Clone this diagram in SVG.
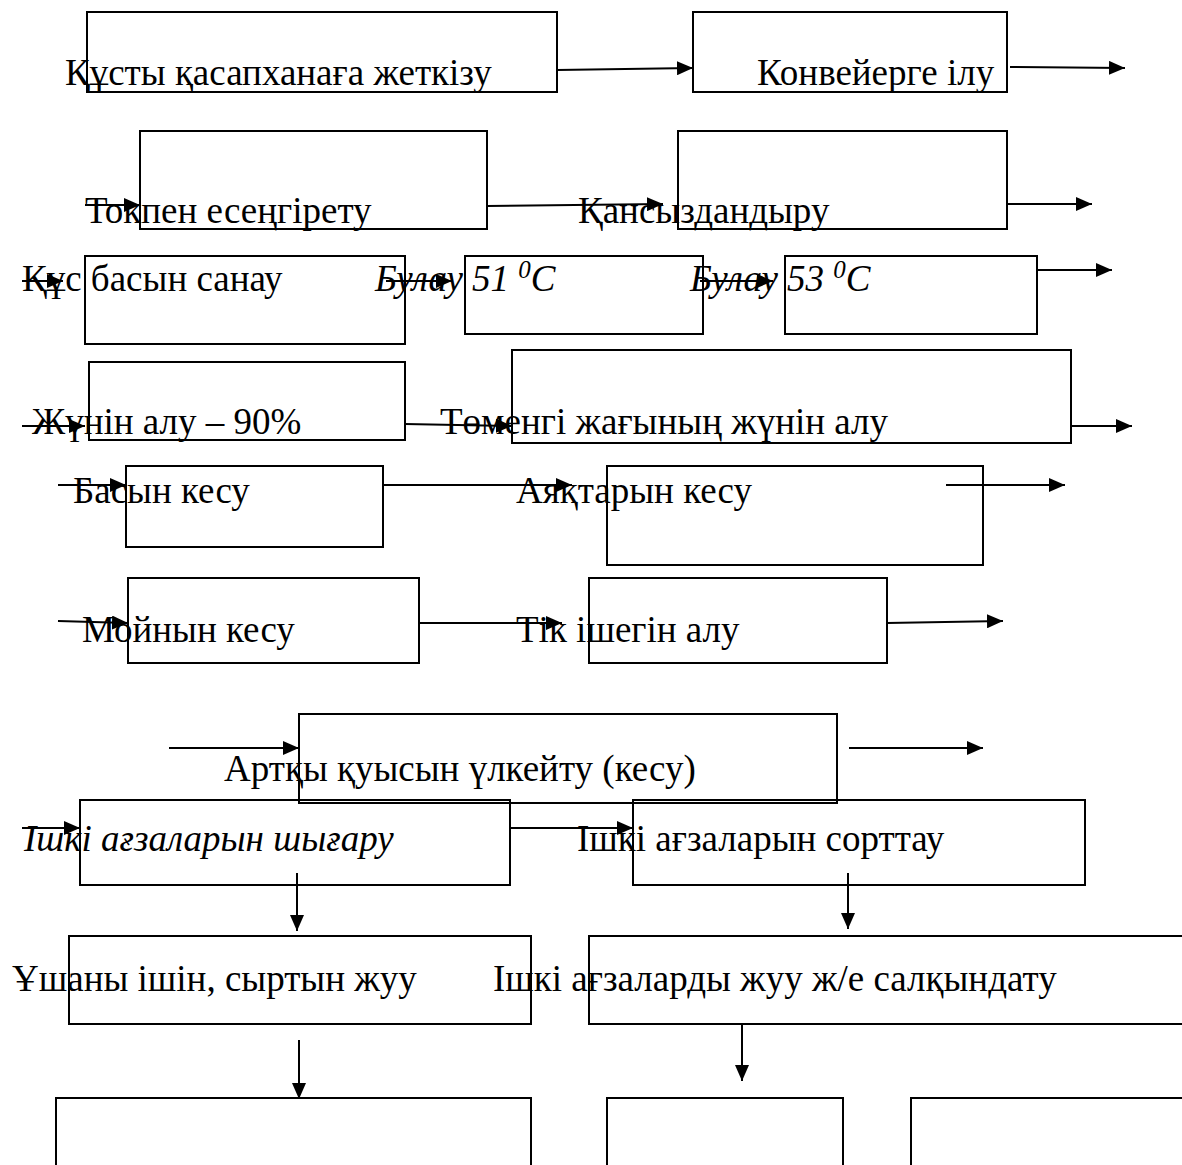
<svg xmlns="http://www.w3.org/2000/svg" width="1182" height="1165" viewBox="0 0 1182 1165">
<defs>
<style>
.box{fill:none;stroke:#000;stroke-width:2}
.c{stroke:#000;stroke-width:2;fill:none}
.t{font-family:"Liberation Serif","Times New Roman",serif;font-size:37px;fill:#000}
.i{font-style:italic}
</style>
<marker id="ah" markerWidth="16" markerHeight="14" refX="16" refY="7" orient="auto" markerUnits="userSpaceOnUse"><path d="M0,0 L16,7 L0,14 z" fill="#000"/></marker>
</defs>
<rect width="1182" height="1165" fill="#fff"/>
<g id="n1"><rect class="box" x="87" y="12" width="470" height="80"/><text class="t" x="65" y="85">Құсты қасапханаға жеткізу</text></g>
<g id="n2"><rect class="box" x="693" y="12" width="314" height="80"/><text class="t" x="757" y="85">Конвейерге ілу</text></g>
<g id="n3"><rect class="box" x="140" y="131" width="347" height="98"/><text class="t" x="85" y="223">Токпен есеңгірету</text></g>
<g id="n4"><rect class="box" x="678" y="131" width="329" height="98"/><text class="t" x="578" y="223">Қансыздандыру</text></g>
<g id="n5"><rect class="box" x="85" y="256" width="320" height="88"/><text class="t" x="22" y="291">Құс басын санау</text></g>
<g id="n6"><rect class="box" x="465" y="256" width="238" height="78"/><text class="t i" x="375" y="291">Булау 51 <tspan font-size="25" baseline-shift="super">0</tspan>C</text></g>
<g id="n7"><rect class="box" x="785" y="256" width="252" height="78"/><text class="t i" x="690" y="291">Булау 53 <tspan font-size="25" baseline-shift="super">0</tspan>C</text></g>
<g id="n8"><rect class="box" x="89" y="362" width="316" height="78"/><text class="t" x="32" y="434">Жүнін алу – 90%</text></g>
<g id="n9"><rect class="box" x="512" y="350" width="559" height="93"/><text class="t" x="440" y="434">Төменгі жағының жүнін алу</text></g>
<g id="n10"><rect class="box" x="126" y="466" width="257" height="81"/><text class="t" x="73" y="503">Басын кесу</text></g>
<g id="n11"><rect class="box" x="607" y="466" width="376" height="99"/><text class="t" x="516" y="503">Аяқтарын кесу</text></g>
<g id="n12"><rect class="box" x="128" y="578" width="291" height="85"/><text class="t" x="82" y="642">Мойнын кесу</text></g>
<g id="n13"><rect class="box" x="589" y="578" width="298" height="85"/><text class="t" x="516" y="642">Тік ішегін алу</text></g>
<g id="n14"><rect class="box" x="299" y="714" width="538" height="89"/><text class="t" x="224" y="781">Артқы қуысын үлкейту (кесу)</text></g>
<g id="n15"><rect class="box" x="80" y="800" width="430" height="85"/><text class="t i" x="24" y="851">Ішкі ағзаларын шығару</text></g>
<g id="n16"><rect class="box" x="633" y="800" width="452" height="85"/><text class="t" x="577" y="851">Ішкі ағзаларын сорттау</text></g>
<g id="n17"><rect class="box" x="69" y="936" width="462" height="88"/><text class="t" x="12" y="991">Ұшаны ішін, сыртын жуу</text></g>
<g id="n18"><rect class="box" x="589" y="936" width="600" height="88"/><text class="t" x="493" y="991">Ішкі ағзаларды жуу ж/е салқындату</text></g>
<g id="n19"><rect class="box" x="56" y="1098" width="475" height="80"/></g>
<g id="n20"><rect class="box" x="607" y="1098" width="236" height="80"/></g>
<g id="n21"><rect class="box" x="911" y="1098" width="280" height="80"/></g>
<g id="connectors" class="c" marker-end="url(#ah)">
<line x1="557" y1="70" x2="693" y2="68"/>
<line x1="1010" y1="67" x2="1125" y2="68"/>
<line x1="85" y1="205" x2="140" y2="205"/>
<line x1="487" y1="206" x2="663" y2="204"/>
<line x1="1007" y1="204" x2="1092" y2="204"/>
<line x1="22" y1="281" x2="63" y2="281"/>
<line x1="386" y1="281" x2="452" y2="281"/>
<line x1="700" y1="281" x2="773" y2="281"/>
<line x1="1037" y1="270" x2="1112" y2="270"/>
<line x1="22" y1="426" x2="85" y2="426"/>
<line x1="405" y1="424" x2="512" y2="426"/>
<line x1="1071" y1="426" x2="1132" y2="426"/>
<line x1="58" y1="485" x2="126" y2="485"/>
<line x1="383" y1="485" x2="572" y2="485"/>
<line x1="946" y1="485" x2="1065" y2="485"/>
<line x1="58" y1="621" x2="128" y2="623"/>
<line x1="419" y1="623" x2="562" y2="623"/>
<line x1="887" y1="623" x2="1003" y2="621"/>
<line x1="169" y1="748" x2="299" y2="748"/>
<line x1="849" y1="748" x2="983" y2="748"/>
<line x1="22" y1="828" x2="80" y2="828"/>
<line x1="510" y1="828" x2="633" y2="828"/>
<line x1="297" y1="873" x2="297" y2="931"/>
<line x1="848" y1="873" x2="848" y2="929"/>
<line x1="299" y1="1040" x2="299" y2="1099"/>
<line x1="742" y1="1023" x2="742" y2="1081"/>
</g>
</svg>
